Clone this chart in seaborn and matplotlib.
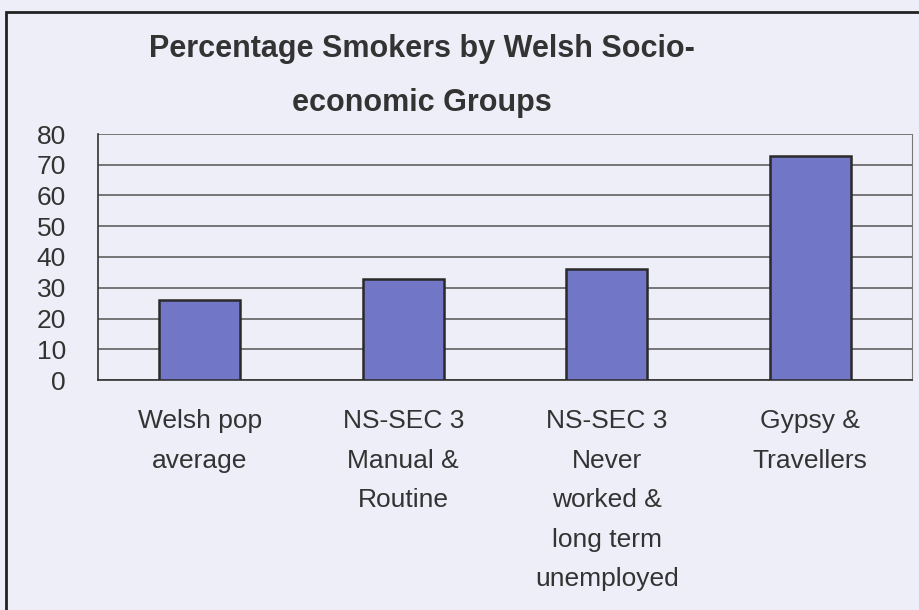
import matplotlib
matplotlib.use("Agg")
import matplotlib.pyplot as plt
import seaborn as sns
import pandas as pd
from matplotlib.patches import Rectangle

# data
categories = [
    "Welsh pop\naverage",
    "NS-SEC 3\nManual &\nRoutine",
    "NS-SEC 3\nNever\nworked &\nlong term\nunemployed",
    "Gypsy &\nTravellers",
]
smokers_pct = [26, 33, 36, 73]
y_ticks = [0, 10, 20, 30, 40, 50, 60, 70, 80]
title = "Percentage Smokers by Welsh Socio-\neconomic Groups"

bg = "#EEEEF8"
bar_color = "#7276C6"
text_color = "#333333"
grid_color = "#555555"

sns.set_style("white")
plt.rcParams["font.family"] = ["Liberation Sans", "DejaVu Sans"]

df = pd.DataFrame({"group": categories, "pct": smokers_pct})

fig = plt.figure(figsize=(9.2, 6.1), dpi=100)
fig.patch.set_facecolor(bg)

# outer chart frame (runs off the right and bottom edges like the scan)
fig.patches.append(Rectangle((6 / 920, -0.05), 1.0, 1 - 12 / 610 + 0.05,
                             transform=fig.transFigure, fill=False,
                             edgecolor="#222222", linewidth=2))

ax = fig.add_axes([98 / 920, 1 - 380 / 610, (912 - 98) / 920, (380 - 134) / 610])
ax.set_facecolor(bg)

sns.barplot(data=df, x="group", y="pct", ax=ax, color=bar_color,
            width=0.4, edgecolor="#2a2a2a", linewidth=1.8, saturation=1,
            zorder=3)

ax.set_xlim(-0.5, len(categories) - 0.5)
ax.set_ylim(0, 80)
ax.set_yticks(y_ticks)
ax.yaxis.grid(True, color=grid_color, linewidth=1.1, zorder=0)
ax.set_axisbelow(True)

ax.set_xlabel("")
ax.set_ylabel("")
ax.tick_params(axis="y", labelsize=19, colors=text_color, length=7,
               width=1, direction="out", pad=16)
for lbl in ax.get_yticklabels():
    lbl.set_color(text_color)

# category labels on major ticks (no marks), boundary marks as minor ticks
ax.set_xticks(range(len(categories)))
ax.set_xticklabels(categories, fontsize=19, color=text_color, linespacing=1.82,
                   va="top")
ax.tick_params(axis="x", which="major", length=0, pad=21)
ax.set_xticks([i - 0.5 for i in range(len(categories) + 1)], minor=True)
ax.tick_params(axis="x", which="minor", length=7, width=1,
               color="#333333", direction="out")

for side in ["left", "bottom"]:
    ax.spines[side].set_color("#333333")
    ax.spines[side].set_linewidth(1.2)
ax.spines["top"].set_visible(False)
ax.spines["right"].set_color("#777777")
ax.spines["right"].set_linewidth(0.8)

fig.text(422 / 920, 1 - 76 / 610, title, ha="center", va="center",
         fontsize=22, fontweight="bold", color=text_color, linespacing=2.0)

fig.savefig("out.png", dpi=100, facecolor=bg)
